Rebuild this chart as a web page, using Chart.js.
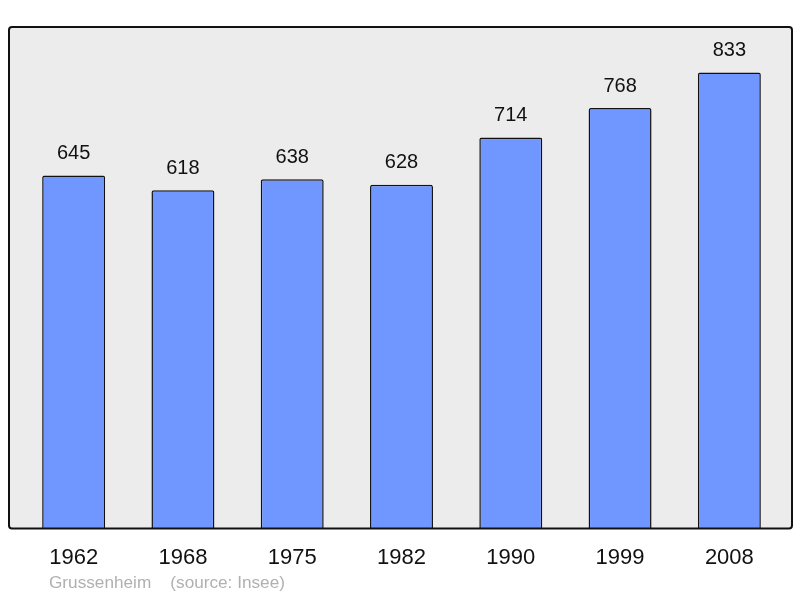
<!DOCTYPE html>
<html>
<head>
<meta charset="utf-8">
<script src="https://cdn.jsdelivr.net/npm/chart.js@4"></script>
<style>
  body { margin: 0; background: #fff; }
  #wrap { width: 800px; height: 598px; }
</style>
</head>
<body>
<div id="wrap"><canvas id="popChart" width="800" height="598"></canvas></div>
<script>
const YEARS = ['1962', '1968', '1975', '1982', '1990', '1999', '2008'];
const POPULATION = [645, 618, 638, 628, 714, 768, 833];
const FOOTER = 'Grussenheim    (source: Insee)';

// panneau gris avec bord noir
const panelPlugin = {
  id: 'panel',
  beforeDraw(chart) {
    const { ctx, chartArea } = chart;
    const x = chartArea.left - 10, y = chartArea.top;
    const w = chartArea.right - chartArea.left + 18, h = chartArea.bottom - chartArea.top;
    ctx.save();
    ctx.beginPath();
    ctx.roundRect(x, y, w, h, 3);
    ctx.fillStyle = '#ececec';
    ctx.fill();
    ctx.restore();
  },
  afterDatasetsDraw(chart) {
    const { ctx, chartArea } = chart;
    const x = chartArea.left - 10, y = chartArea.top;
    const w = chartArea.right - chartArea.left + 18, h = chartArea.bottom - chartArea.top;
    ctx.save();
    ctx.beginPath();
    ctx.roundRect(x, y, w, h, 3);
    ctx.lineWidth = 2;
    ctx.strokeStyle = '#111';
    ctx.stroke();

    // valeurs au-dessus des barres
    const meta = chart.getDatasetMeta(0);
    ctx.fillStyle = '#111';
    ctx.font = '20px "Liberation Sans", Arial, sans-serif';
    ctx.textAlign = 'center';
    ctx.textBaseline = 'middle';
    meta.data.forEach((bar, i) => {
      ctx.fillText(String(POPULATION[i]), bar.x, bar.y - 22);
    });

    ctx.fillStyle = '#b0b0b0';
    ctx.font = '17.2px "Liberation Sans", Arial, sans-serif';
    ctx.textAlign = 'left';
    ctx.fillText(FOOTER, 49, 583);
    ctx.restore();
  }
};

new Chart(document.getElementById('popChart'), {
  type: 'bar',
  data: {
    labels: YEARS,
    datasets: [{
      data: POPULATION,
      backgroundColor: '#7096ff',
      borderColor: '#111',
      borderWidth: 1.5,
      borderRadius: { topLeft: 2, topRight: 2 },
      borderSkipped: 'bottom',
      barPercentage: 0.576,
      categoryPercentage: 1
    }]
  },
  options: {
    responsive: false,
    animation: false,
    layout: { padding: { top: 27, left: 19, right: 16, bottom: 11 } },
    plugins: {
      legend: { display: false },
      tooltip: { enabled: false }
    },
    scales: {
      x: {
        grid: { display: false, drawTicks: false },
        border: { display: false },
        ticks: {
          color: '#111',
          padding: 16,
          font: { size: 22, family: '"Liberation Sans", Arial, sans-serif' }
        }
      },
      y: {
        display: false,
        min: 0,
        max: 916
      }
    }
  },
  plugins: [panelPlugin]
});
</script>
</body>
</html>
